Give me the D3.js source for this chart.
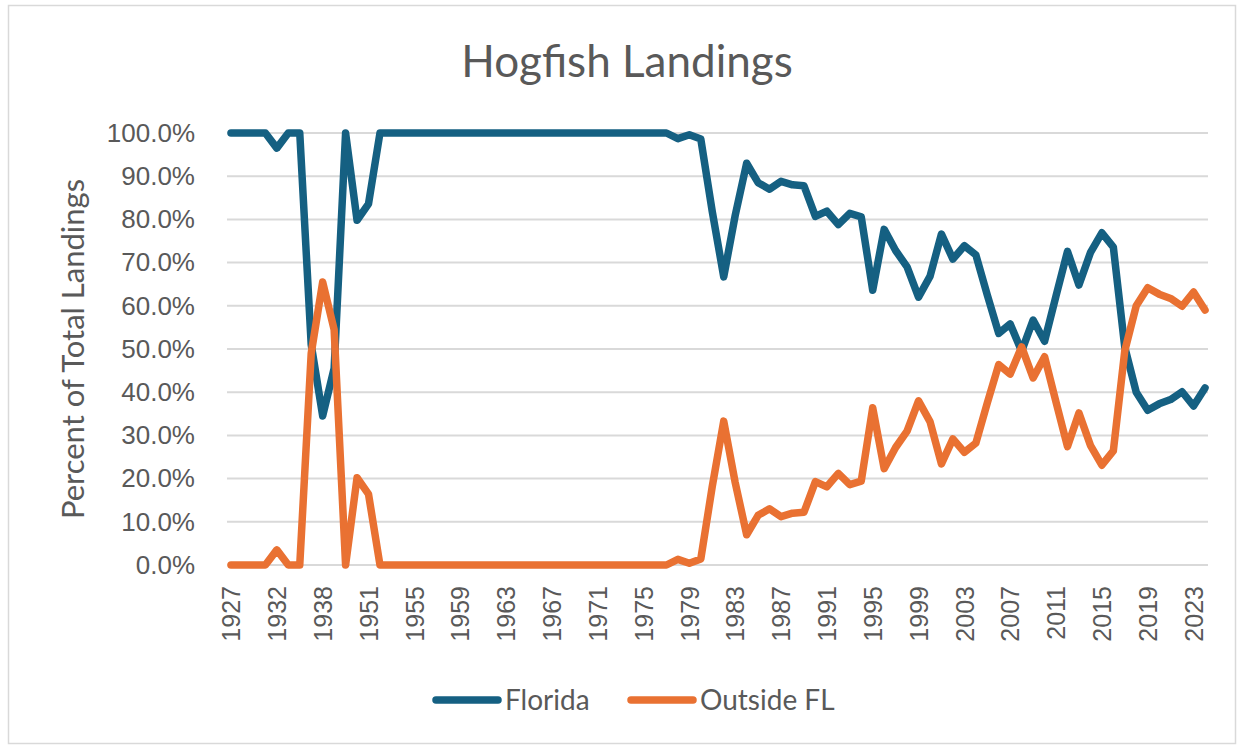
<!DOCTYPE html>
<html>
<head>
<meta charset="utf-8">
<script src="https://cdn.jsdelivr.net/npm/d3@7"></script>
<style>
    body { margin: 0; background: #ffffff; }
    #chart-area { width: 1241px; height: 747px; }
</style>
</head>
<body>
<div id="chart-area"></div>
<script>
// years on the category axis (not evenly spaced before 1951)
var years = [1927, 1928, 1929, 1930, 1932, 1933, 1934, 1936, 1938, 1940, 1945, 1950, 1951,
    1952, 1953, 1954, 1955, 1956, 1957, 1958, 1959, 1960, 1961, 1962, 1963, 1964, 1965,
    1966, 1967, 1968, 1969, 1970, 1971, 1972, 1973, 1974, 1975, 1976, 1977, 1978, 1979,
    1980, 1981, 1982, 1983, 1984, 1985, 1986, 1987, 1988, 1989, 1990, 1991, 1992, 1993,
    1994, 1995, 1996, 1997, 1998, 1999, 2000, 2001, 2002, 2003, 2004, 2005, 2006, 2007,
    2008, 2009, 2010, 2011, 2012, 2013, 2014, 2015, 2016, 2017, 2018, 2019, 2020, 2021,
    2022, 2023, 2024];

// percent of landings
var florida = [100, 100, 100, 100, 96.5, 100, 100, 51, 34.5, 45.5, 100, 79.8, 83.6,
    100, 100, 100, 100, 100, 100, 100, 100, 100, 100, 100, 100, 100, 100,
    100, 100, 100, 100, 100, 100, 100, 100, 100, 100, 100, 100, 98.7, 99.6,
    98.6, 81.8, 66.7, 80.9, 93.0, 88.5, 87.0, 88.8, 88.0, 87.8, 80.7, 81.9, 78.8, 81.4,
    80.6, 63.6, 77.7, 72.8, 69.0, 62.0, 66.8, 76.6, 70.8, 73.9, 71.8, 62.5, 53.6, 55.8,
    49.5, 56.7, 51.8, 62.3, 72.6, 64.8, 72.3, 76.9, 73.6, 50.4, 40.0, 35.8, 37.3, 38.3,
    40.1, 36.8, 41.0];

var outsideFL = [0, 0, 0, 0, 3.5, 0, 0, 49, 65.5, 54.5, 0, 20.2, 16.4,
    0, 0, 0, 0, 0, 0, 0, 0, 0, 0, 0, 0, 0, 0,
    0, 0, 0, 0, 0, 0, 0, 0, 0, 0, 0, 0, 1.3, 0.4,
    1.4, 18.2, 33.3, 19.1, 7.0, 11.5, 13.0, 11.2, 12.0, 12.2, 19.3, 18.1, 21.2, 18.6,
    19.4, 36.4, 22.3, 27.2, 31.0, 38.0, 33.2, 23.4, 29.2, 26.1, 28.2, 37.5, 46.4, 44.2,
    50.5, 43.3, 48.2, 37.7, 27.4, 35.2, 27.7, 23.1, 26.4, 49.6, 60.0, 64.2, 62.7, 61.7,
    59.9, 63.2, 59.0];

var yTicks = [0, 10, 20, 30, 40, 50, 60, 70, 80, 90, 100];
var seriesNames = ["Florida", "Outside FL"];
var seriesColors = ["#156082", "#E97132"];

function init() {
    var svgWidth = 1241;
    var svgHeight = 747;

    var margin = {
        top: 133,
        right: 36,
        bottom: 182,
        left: 231
    };

    var svg = d3.select("#chart-area")
        .append("svg")
        .attr("width", svgWidth)
        .attr("height", svgHeight);

    // outer frame
    svg.append("rect")
        .attr("x", 8.5)
        .attr("y", 5.5)
        .attr("width", 1227)
        .attr("height", 738)
        .attr("fill", "#ffffff")
        .attr("stroke", "#d9d9d9")
        .attr("stroke-width", 1.5);

    var xScale = d3.scalePoint()
        .domain(years)
        .range([margin.left, svgWidth - margin.right]);

    var yScale = d3.scaleLinear()
        .domain([0, 100])
        .range([svgHeight - margin.bottom, margin.top]);

    // gridlines
    svg.append("g")
        .attr("class", "grid")
        .selectAll("line")
        .data(yTicks)
        .enter()
        .append("line")
        .attr("x1", xScale(years[0]) - 4)
        .attr("x2", xScale(years[years.length - 1]) + 3)
        .attr("y1", d => yScale(d))
        .attr("y2", d => yScale(d))
        .attr("stroke", "#d9d9d9")
        .attr("stroke-width", 2);

    // y axis labels
    var leftAxis = d3.axisLeft(yScale)
        .tickValues(yTicks)
        .tickSize(0)
        .tickPadding(0)
        .tickFormat(d => d.toFixed(1) + "%");

    var yAxisGroup = svg.append("g")
        .attr("transform", "translate(195,0)")
        .call(leftAxis);
    yAxisGroup.select(".domain").remove();
    yAxisGroup.selectAll("text")
        .attr("font-family", "Liberation Sans, Arial, sans-serif")
        .attr("font-size", "26px")
        .attr("fill", "#595959");

    // x axis labels, every 4th category
    var botAxis = d3.axisBottom(xScale)
        .tickValues(years.filter((d, i) => i % 4 === 0))
        .tickSize(0);

    var xAxisGroup = svg.append("g")
        .attr("transform", "translate(0," + yScale(0) + ")")
        .call(botAxis);
    xAxisGroup.select(".domain").remove();
    xAxisGroup.selectAll("text")
        .attr("font-family", "Liberation Sans, Arial, sans-serif")
        .attr("font-size", "25px")
        .attr("fill", "#595959")
        .style("text-anchor", "end")
        .attr("x", -21)
        .attr("y", 0)
        .attr("dy", "0.35em")
        .attr("transform", "rotate(-90)");

    // lines
    var seriesData = [florida, outsideFL];
    var line = d3.line()
        .x((d, i) => xScale(years[i]))
        .y(d => yScale(d));

    svg.append("g")
        .selectAll("path")
        .data(seriesData)
        .enter()
        .append("path")
        .attr("d", d => line(d))
        .attr("fill", "none")
        .attr("stroke", (d, i) => seriesColors[i])
        .attr("stroke-width", 7.5)
        .attr("stroke-linejoin", "round")
        .attr("stroke-linecap", "round");

    // title
    svg.append("text")
        .attr("x", 627)
        .attr("y", 77)
        .attr("text-anchor", "middle")
        .attr("font-family", "Lato, sans-serif")
        .attr("font-size", "44px")
        .attr("fill", "#595959")
        .text("Hogfish Landings");

    // y axis title
    svg.append("text")
        .attr("transform", "translate(84,349) rotate(-90)")
        .attr("text-anchor", "middle")
        .attr("font-family", "Lato, sans-serif")
        .attr("font-size", "31px")
        .attr("fill", "#595959")
        .text("Percent of Total Landings");

    // legend
    var legendX = [432, 627];
    var legend = svg.append("g")
        .selectAll("g")
        .data(seriesNames)
        .enter()
        .append("g")
        .attr("transform", (d, i) => "translate(" + legendX[i] + ",700)");

    legend.append("line")
        .attr("x1", 4)
        .attr("x2", 66)
        .attr("y1", 0)
        .attr("y2", 0)
        .attr("stroke", (d, i) => seriesColors[i])
        .attr("stroke-width", 7.5)
        .attr("stroke-linecap", "round");

    legend.append("text")
        .attr("x", 73)
        .attr("y", 0)
        .attr("dy", "0.35em")
        .attr("font-family", "Lato, sans-serif")
        .attr("font-size", "28px")
        .attr("fill", "#595959")
        .text(d => d);
}

window.addEventListener('load', init, false)
</script>
</body>
</html>
